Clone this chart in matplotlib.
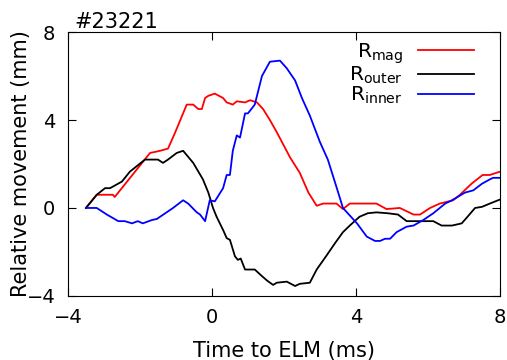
import numpy as np
import matplotlib
matplotlib.use('Agg')
import matplotlib.pyplot as plt

# Data (time to ELM in ms, movement in mm)
t_mag = [-3.5, -3.2, -2.75, -2.7, -1.72, -1.44, -1.22, -1.03, -0.7, -0.52, -0.38, -0.28,
         -0.19, -0.1, 0.08, 0.31, 0.41, 0.58, 0.69, 0.92, 1.06, 1.25, 1.42, 1.61, 1.8,
         2.17, 2.44, 2.68, 2.91, 3.09, 3.46, 3.64, 3.83, 4.57, 4.85, 5.22, 5.6, 5.78,
         6.06, 6.33, 6.7, 6.89, 7.21, 7.52, 7.72, 8.0]
r_mag = [0.0, 0.6, 0.6, 0.5, 2.5, 2.6, 2.7, 3.4, 4.7, 4.7, 4.5, 4.5,
         5.0, 5.1, 5.2, 5.0, 4.8, 4.7, 4.85, 4.8, 4.9, 4.8, 4.5, 4.0, 3.45,
         2.3, 1.6, 0.7, 0.1, 0.2, 0.2, -0.05, 0.2, 0.2, -0.05, 0.0, -0.3, -0.3,
         0.0, 0.2, 0.35, 0.6, 1.1, 1.5, 1.5, 1.65]

t_outer = [-3.5, -3.2, -2.97, -2.83, -2.5, -2.28, -1.86, -1.5, -1.36, -1.22, -0.98, -0.8,
           -0.52, -0.25, -0.1, 0.03, 0.13, 0.31, 0.41, 0.5, 0.64, 0.72, 0.8, 0.92, 1.19,
           1.39, 1.53, 1.7, 1.8, 2.08, 2.31, 2.44, 2.72, 2.91, 3.19, 3.42, 3.64, 3.83,
           4.1, 4.33, 4.57, 4.88, 5.17, 5.41, 5.6, 6.15, 6.38, 6.67, 6.94, 7.1, 7.31,
           7.5, 7.72, 7.95, 8.0]
r_outer = [0.0, 0.6, 0.9, 0.9, 1.2, 1.65, 2.2, 2.2, 2.05, 2.2, 2.5, 2.6,
           2.05, 1.3, 0.7, 0.0, -0.4, -1.0, -1.37, -1.45, -2.2, -2.36, -2.3, -2.8, -2.8,
           -3.1, -3.3, -3.5, -3.4, -3.35, -3.55, -3.45, -3.4, -2.8, -2.15, -1.6, -1.1, -0.8,
           -0.4, -0.24, -0.2, -0.24, -0.3, -0.6, -0.6, -0.6, -0.8, -0.8, -0.7, -0.4, 0.0,
           0.05, 0.2, 0.35, 0.38]

t_inner = [-3.5, -3.2, -2.92, -2.6, -2.42, -2.22, -2.06, -1.92, -1.67, -1.53, -1.08, -0.8,
           -0.66, -0.42, -0.33, -0.19, -0.06, 0.08, 0.31, 0.41, 0.5, 0.58, 0.69, 0.78,
           0.92, 1.0, 1.19, 1.39, 1.61, 1.89, 2.08, 2.31, 2.5, 2.72, 3.0, 3.22, 3.47,
           3.64, 3.75, 4.03, 4.3, 4.53, 4.67, 4.81, 4.95, 5.13, 5.41, 5.6, 5.87, 6.15,
           6.48, 6.67, 7.03, 7.26, 7.5, 7.72, 7.81, 8.0]
r_inner = [0.0, 0.0, -0.3, -0.6, -0.6, -0.7, -0.6, -0.7, -0.55, -0.5, 0.0, 0.35,
           0.2, -0.2, -0.3, -0.6, 0.35, 0.3, 0.9, 1.5, 1.5, 2.6, 3.3, 3.2,
           4.3, 4.3, 4.7, 6.0, 6.65, 6.7, 6.35, 5.8, 5.0, 4.2, 3.0, 2.2, 0.9,
           0.0, -0.2, -0.7, -1.3, -1.5, -1.5, -1.4, -1.4, -1.1, -0.85, -0.8, -0.55, -0.24,
           0.2, 0.35, 0.7, 0.8, 1.1, 1.3, 1.37, 1.37]

fig, ax = plt.subplots(figsize=(5.07, 3.6), dpi=100)
fig.subplots_adjust(left=0.134, right=0.986, top=0.911, bottom=0.178)

ax.plot(t_mag, r_mag, color='red', lw=1.3, label=r'R$_{\mathrm{mag}}$')
ax.plot(t_outer, r_outer, color='black', lw=1.3, label=r'R$_{\mathrm{outer}}$')
ax.plot(t_inner, r_inner, color='blue', lw=1.3, label=r'R$_{\mathrm{inner}}$')

ax.set_xlim(-4, 8)
ax.set_ylim(-4, 8)
ax.set_xticks([-4, 0, 4, 8])
ax.set_yticks([-4, 0, 4, 8])
ax.tick_params(direction='in', top=True, right=True, labelsize=14, length=6, pad=9)
ax.set_xlabel('Time to ELM (ms)', fontsize=15, labelpad=10)
ax.set_ylabel('Relative movement (mm)', fontsize=15, labelpad=-3)
ax.set_title('#23221', fontsize=15, loc='left', pad=3, x=0.015)

leg = ax.legend(loc='upper right', bbox_to_anchor=(0.962, 1.0), frameon=False,
                fontsize=14.5, markerfirst=False, handlelength=2.8,
                labelspacing=-0.05, borderaxespad=0.05, handletextpad=0.75)

plt.savefig('out.png', dpi=100)
